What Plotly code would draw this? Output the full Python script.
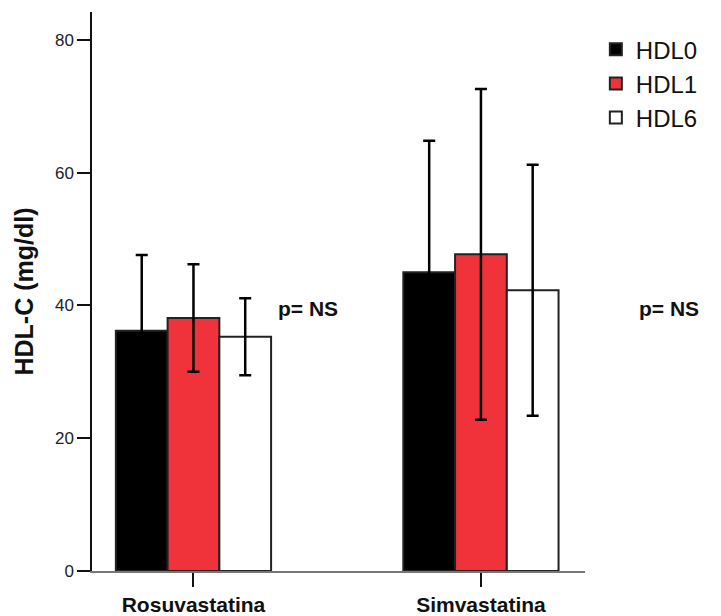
import plotly.graph_objects as go

categories = ["Rosuvastatina", "Simvastatina"]
series_names = ["HDL0", "HDL1", "HDL6"]
hdl0 = [36.2, 45.0]
hdl1 = [38.1, 47.7]
hdl6 = [35.3, 42.3]
hdl0_err = [11.4, 19.8]
hdl1_err = [8.1, 24.9]
hdl6_err = [5.8, 18.9]
y_ticks = [0, 20, 40, 60, 80]
p_labels = ["p= NS", "p= NS"]

colors = ["#000000", "#F0333A", "#FFFFFF"]
values = [hdl0, hdl1, hdl6]
errors = [hdl0_err, hdl1_err, hdl6_err]

FONT = "Liberation Sans, Arial, sans-serif"

fig = go.Figure()
for name, vals, errs, col in zip(series_names, values, errors, colors):
    fig.add_trace(go.Bar(
        x=categories, y=vals, name=name,
        marker=dict(color=col, line=dict(color="#222222", width=2)),
        error_y=dict(type="data", array=errs, visible=True,
                     color="#000000", thickness=2.5, width=6),
    ))

# p-value annotations
p_x = [0.438, 1.170]
for lab, px in zip(p_labels, p_x):
    fig.add_annotation(x=px, xref="paper", y=39.6, yref="y", text="<b>" + lab + "</b>",
                       showarrow=False, xanchor="center", yanchor="middle",
                       font=dict(family=FONT, size=21, color="#111111"))

# page body has an 8px margin, so the figure is sized/offset to compensate
fig.update_layout(
    width=713, height=608,
    margin=dict(l=84, r=136, t=4, b=45, autoexpand=False),
    paper_bgcolor="white", plot_bgcolor="white",
    barmode="group", bargap=0.46, bargroupgap=0,
    font=dict(family=FONT, color="#111111"),
    showlegend=True,
    legend=dict(x=1.022, xanchor="left", y=0.973, yanchor="top",
                font=dict(family=FONT, size=24, color="#111111"),
                bgcolor="rgba(0,0,0,0)", itemwidth=30),
    xaxis=dict(
        range=[-0.353, 1.362], automargin=False,
        showline=True, linecolor="#777777", linewidth=1.5,
        ticks="outside", ticklen=14, tickwidth=2, tickcolor="#111111",
        tickfont=dict(family=FONT, size=21, color="#111111", weight="bold"),
        showgrid=False, zeroline=False,
    ),
    yaxis=dict(
        range=[0, 84.2], automargin=False,
        tickvals=y_ticks,
        showline=True, linecolor="#111111", linewidth=1.5,
        ticks="outside", ticklen=13, tickwidth=1.5, tickcolor="#111111",
        tickfont=dict(family=FONT, size=17, color="#222222"),
        showgrid=False, zeroline=False,
        title=dict(text="<b>HDL-C (mg/dl)</b>", standoff=14,
                   font=dict(family=FONT, size=25, color="#111111")),
    ),
)

fig.write_html("out.html")
